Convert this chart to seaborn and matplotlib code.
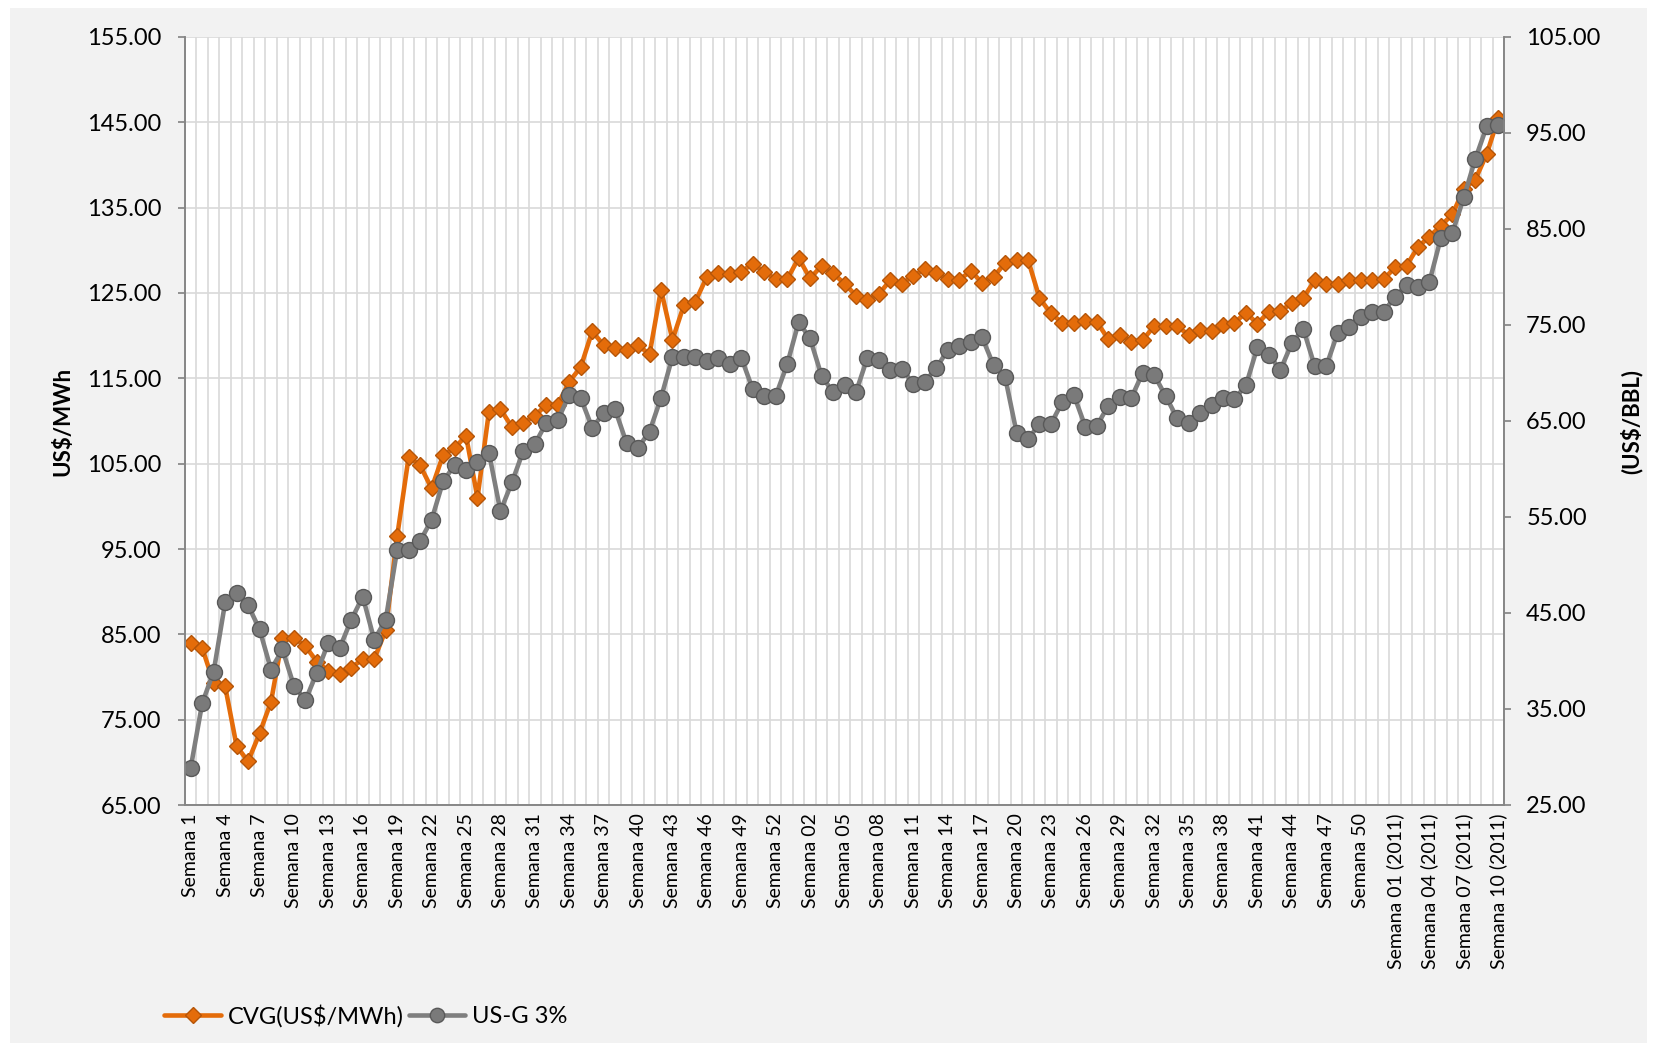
import numpy as np
import pandas as pd
import matplotlib
matplotlib.use('Agg')
import matplotlib.pyplot as plt
from matplotlib.patches import Rectangle
import seaborn as sns

# Weekly categories: 53 weeks, then 52 weeks, then 10 weeks of 2011
weeks = ([f'Semana {i}' for i in range(1, 54)]
         + [f'Semana {i:02d}' for i in range(1, 53)]
         + [f'Semana {i:02d} (2011)' for i in range(1, 11)])

cvg = [84.0, 83.4, 79.3, 78.9, 71.9, 70.1, 73.4, 77.1, 84.6, 84.6, 83.6, 81.8,
       80.7, 80.3, 81.1, 82.1, 82.1, 85.5, 96.5, 105.8, 104.8, 102.1, 106.0, 106.8,
       108.3, 101.0, 111.1, 111.4, 109.3, 109.8, 110.6, 111.9, 111.9, 114.6, 116.3, 120.5,
       118.9, 118.5, 118.3, 118.9, 117.8, 125.4, 119.5, 123.6, 124.0, 126.9, 127.3, 127.2,
       127.5, 128.4, 127.5, 126.6, 126.6, 129.1, 126.7, 128.2, 127.3, 126.1, 124.7, 124.2,
       124.9, 126.5, 126.1, 127.0, 127.8, 127.4, 126.6, 126.5, 127.6, 126.2, 126.9, 128.5,
       128.9, 128.9, 124.4, 122.6, 121.5, 121.5, 121.7, 121.6, 119.6, 120.1, 119.3, 119.5,
       121.1, 121.1, 121.1, 120.1, 120.7, 120.6, 121.2, 121.5, 122.7, 121.4, 122.8, 122.9,
       123.8, 124.4, 126.5, 126.1, 126.0, 126.5, 126.5, 126.5, 126.6, 128.0, 128.2, 130.4,
       131.6, 132.9, 134.2, 137.2, 138.3, 141.3, 145.5]

usg = [28.9, 35.6, 38.9, 46.1, 47.1, 45.8, 43.3, 39.1, 41.2, 37.4, 35.9, 38.8,
       41.9, 41.4, 44.3, 46.7, 42.2, 44.3, 51.6, 51.6, 52.5, 54.7, 58.7, 60.4,
       59.9, 60.7, 61.7, 55.6, 58.6, 61.9, 62.6, 64.8, 65.1, 67.7, 67.4, 64.3,
       65.8, 66.2, 62.7, 62.2, 63.9, 67.4, 71.7, 71.7, 71.7, 71.2, 71.6, 70.9,
       71.6, 68.3, 67.6, 67.6, 70.9, 75.3, 73.6, 69.7, 68.0, 68.7, 68.0, 71.6,
       71.4, 70.3, 70.4, 68.9, 69.1, 70.5, 72.4, 72.8, 73.2, 73.7, 70.8, 69.6,
       63.8, 63.1, 64.7, 64.7, 67.0, 67.7, 64.4, 64.5, 66.6, 67.5, 67.4, 70.0,
       69.8, 67.6, 65.3, 64.8, 65.8, 66.7, 67.4, 67.3, 68.7, 72.7, 71.9, 70.3,
       73.1, 74.6, 70.7, 70.7, 74.2, 74.8, 75.8, 76.4, 76.4, 77.9, 79.2, 79.0,
       79.5, 84.1, 84.6, 88.3, 92.3, 95.7, 95.8]

left_ticks = [65, 75, 85, 95, 105, 115, 125, 135, 145, 155]
right_ticks = [25, 35, 45, 55, 65, 75, 85, 95, 105]

df = pd.DataFrame({'semana': weeks, 'pos': np.arange(len(weeks)), 'cvg': cvg, 'usg': usg})

sns.set_theme(style='white')
plt.rcParams['font.family'] = ['Lato', 'DejaVu Sans']
plt.rcParams['text.color'] = 'black'
plt.rcParams['xtick.color'] = 'black'
plt.rcParams['ytick.color'] = 'black'
plt.rcParams['axes.labelcolor'] = 'black'

W, H = 1657, 1051
fig = plt.figure(figsize=(W / 100, H / 100), dpi=100, facecolor='white')
fig.patches.append(Rectangle((10 / W, 8 / H), 1 - 20 / W, 1 - 16 / H,
                             transform=fig.transFigure, facecolor='#f2f2f2',
                             edgecolor='none', zorder=-10))

ax = fig.add_axes([185 / W, 1 - 805 / H, (1504 - 185) / W, (805 - 37) / H])
ax.set_facecolor('white')
ax2 = ax.twinx()

orange = '#e46c0a'
grey = '#7f7f7f'

sns.lineplot(data=df, x='pos', y='cvg', ax=ax, color=orange, lw=3.3,
             marker='D', markersize=8.5, markeredgecolor='#b55508', markeredgewidth=1,
             label='CVG(US$/MWh)', legend=False)
sns.lineplot(data=df, x='pos', y='usg', ax=ax2, color=grey, lw=3.3,
             marker='o', markersize=11.5, markerfacecolor='#7a7a7a',
             markeredgecolor='#595959', markeredgewidth=1,
             label='US-G 3%', legend=False)

n = len(weeks)
ax.set_xlim(-0.5, n - 0.5)
ax.set_ylim(65, 155)
ax2.set_ylim(25, 105)

ax.set_xticks(df['pos'][::3])
ax.set_xticklabels(df['semana'][::3], rotation=90, fontsize=14)
ax.set_xticks(np.arange(-0.5, n, 1), minor=True)
ax.set_yticks(left_ticks)
ax.set_yticklabels([f'{v:.2f}' for v in left_ticks], fontsize=17)
ax2.set_yticks(right_ticks)
ax2.set_yticklabels([f'{v:.2f}' for v in right_ticks], fontsize=17)

ax.grid(False)
ax2.grid(False)
ax.grid(which='minor', axis='x', color='#d9d9d9', lw=1.2)
ax.grid(which='major', axis='y', color='#d9d9d9', lw=1.2)
ax.set_axisbelow(True)

ax.tick_params(axis='x', which='major', length=0, pad=6)
ax.tick_params(axis='x', which='minor', length=0)
ax.tick_params(axis='y', length=5, color='#868686', direction='out', pad=12)
ax2.tick_params(axis='y', length=5, color='#868686', direction='out', pad=11)

for a in (ax, ax2):
    a.spines['top'].set_visible(False)
    for s in ('left', 'right', 'bottom'):
        a.spines[s].set_color('#868686')
        a.spines[s].set_linewidth(1.2)

ax.set_xlabel('')
ax.set_ylabel('US$/MWh', fontsize=16, fontweight='bold')
ax.yaxis.set_label_coords(-0.085, 0.5)
ax2.set_ylabel('(US$/BBL)', fontsize=16, fontweight='bold', rotation=90)
ax2.yaxis.set_label_coords(1.088, 0.5)

h1, l1 = ax.get_legend_handles_labels()
h2, l2 = ax2.get_legend_handles_labels()
fig.legend(h1 + h2, l1 + l2, loc='center left', bbox_to_anchor=(143 / W, 1 - 1016 / H),
           ncol=2, frameon=False, fontsize=17, handlelength=2.4, handletextpad=0.3,
           columnspacing=0.2, markerscale=0.9)

fig.savefig('out.png', dpi=100, facecolor=fig.get_facecolor())
